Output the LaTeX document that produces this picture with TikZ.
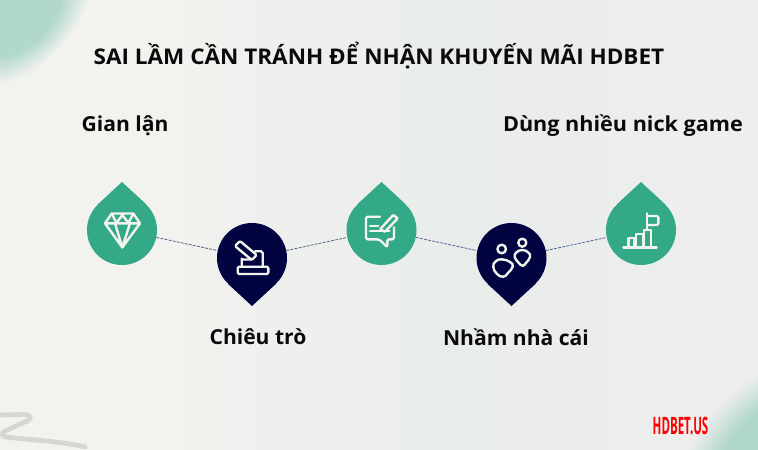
\documentclass[tikz,border=0pt]{standalone}
\usepackage{fontspec}
\setmainfont{Open Sans}
\definecolor{pingreen}{HTML}{34A987}
\definecolor{pinnavy}{HTML}{010440}
\definecolor{mint}{HTML}{B2D8CA}
\definecolor{paper}{HTML}{F2F2EF}
\definecolor{paperright}{HTML}{EEEEEE}
\definecolor{haze}{HTML}{E9EDEA}
\definecolor{linkblue}{HTML}{4F6590}
\definecolor{scribble}{HTML}{D6D6D4}
\pgfdeclarehorizontalshading{paperband}{100bp}{color(0bp)=(paper); color(36bp)=(paper); color(55bp)=(haze); color(75bp)=(paperright); color(100bp)=(paperright)}
\pgfdeclareradialshading{mintleft}{\pgfpoint{0bp}{0bp}}{color(0bp)=(mint); color(14bp)=(mint); color(25bp)=(paper); color(50bp)=(paper)}
\pgfdeclareradialshading{mintright}{\pgfpoint{0bp}{0bp}}{color(0bp)=(mint); color(14bp)=(mint); color(25bp)=(paperright); color(50bp)=(paperright)}
\tikzset{
  pingreennode/.style={circle, fill=pingreen, inner sep=0pt, minimum size=52.5pt},
  pinnavynode/.style={circle, fill=pinnavy, inner sep=0pt, minimum size=52.5pt},
  link/.style={draw=linkblue, line width=0.6pt, dash pattern=on 2.2pt off 0.9pt},
  icon/.style={draw=paper, line width=1.8pt, line join=round, line cap=round, fill=none},
  itemtext/.style={font=\bfseries\fontsize{15.5pt}{18pt}\selectfont, text=black!96, inner sep=0pt, anchor=base, xscale=1.02},
}
\begin{document}
\begin{tikzpicture}[x=0.75pt, y=-0.75pt]
    \useasboundingbox (0,0) rectangle (758,450);
    \begin{scope}
      \clip (0,0) rectangle (758,450);
      \shade[shading=paperband] (0,0) rectangle (758,450);
      \begin{scope}[transform canvas={rotate around={45:(20,15)}}]
        \shade[shading=mintleft] (20,15) ellipse (88 and 52);
      \end{scope}
      \begin{scope}[transform canvas={rotate around={45:(772,452)}}]
        \shade[shading=mintright] (772,452) ellipse (115 and 72);
      \end{scope}
      \draw[scribble, line width=3.6pt, line cap=round, line join=round] (-3,415) -- (24,414.5)
      .. controls (32,415) and (32,419) .. (27,421) -- (5,431)
      .. controls (1,433) and (1,436) .. (6,437)
      .. controls (30,440) and (60,441) .. (85,447);
    \end{scope}

    \node[pingreennode] (gem) at (122,230) {};
    \node[pinnavynode] (gavel) at (252,258) {};
    \node[pingreennode] (note) at (381.5,230) {};
    \node[pinnavynode] (people) at (511.5,258) {};
    \node[pingreennode] (chart) at (641,230) {};

    \draw[link] (gem) -- (gavel);
    \draw[link] (gavel) -- (note);
    \draw[link] (note) -- (people);
    \draw[link] (people) -- (chart);

    \fill[pingreen] (gem.46.8) -- ([yshift=36pt]gem.center) -- (gem.133.2) -- cycle;
    \fill[pingreen] (note.46.8) -- ([yshift=36pt]note.center) -- (note.133.2) -- cycle;
    \fill[pingreen] (chart.46.8) -- ([yshift=36pt]chart.center) -- (chart.133.2) -- cycle;
    \fill[pinnavy] (gavel.-46.8) -- ([yshift=-36pt]gavel.center) -- (gavel.-133.2) -- cycle;
    \fill[pinnavy] (people.-46.8) -- ([yshift=-36pt]people.center) -- (people.-133.2) -- cycle;

    \draw[icon] (111.7,213.5) -- (133.3,213.5) -- (140,223.3) -- (122.3,247.5) -- (105,223.3) -- cycle
    (105,223.3) -- (140,223.3)
    (112,214) -- (116.5,223) -- (122.3,215) -- (128.5,223) -- (133,214)
    (115,223.3) -- (122.3,247.5) -- (130,223.3);

    \draw[icon, rounded corners=1pt] (235,246) -- (240,241) -- (256.7,255) -- (251.7,260) -- cycle;
    \draw[icon] (241.7,258.5) -- (241.7,266.7) (241.7,259.5) -- (252,259.5)
    (262.7,266.7) -- (262.7,253) -- (261,251.2) -- (255,251.2);
    \draw[icon, rounded corners=1pt] (237.7,266.7) rectangle (268.3,274);

    \draw[icon, rounded corners=1.5pt] (380,216.7) -- (366,216.7) -- (366,239.3) -- (379.3,239.3)
    -- (387.3,247.3) -- (387.3,239.3) -- (394,239.3) -- (394,227.3);
    \draw[icon] (370,226) -- (378.3,226) (370,231) -- (389.3,231);
    \draw[icon, rounded corners=0.5pt] (380,229.3) -- (393.3,215) -- (397.7,218.3) -- (385,231.7) -- cycle;

    \draw[icon] (501.7,249) circle (4.3) (522.3,242.7) circle (4);
    \draw[icon] plot[smooth cycle, tension=0.8] coordinates {(501.7,259.3) (510,262) (512.7,266.5) (508,273) (503.3,276.7) (497,274) (493.3,267) (495.5,261.5)};
    \draw[icon] plot[smooth cycle, tension=0.8] coordinates {(522.3,250) (528.3,252.5) (530,257) (526,263) (522.3,265.7) (518,262) (514.7,257) (516.3,252.5)};

    \draw[icon] (623.3,247.3) -- (656.7,247.3)
    (628.3,247.3) -- (628.3,237.7) -- (634.3,237.7) -- (634.3,247.3)
    (636,247.3) -- (636,234) -- (642.7,234) -- (642.7,247.3)
    (644,247.3) -- (644,230) -- (651,230) -- (651,247.3)
    (647,230) -- (647,213.3);
    \draw[icon, rounded corners=1pt] (647,216) -- (658.3,216) -- (658.3,225) -- (647,225);

    \node[itemtext, xscale=1.022, font=\bfseries\fontsize{16.2pt}{18pt}\selectfont] (title) at (379,64) {SAI LẦM CẦN TRÁNH ĐỂ NHẬN KHUYẾN MÃI HDBET};
    \node[itemtext] (gemlabel) at (125,131) {Gian lận};
    \node[itemtext, xscale=1.025] (chartlabel) at (623,131) {Dùng nhiều nick game};
    \node[itemtext] (gavellabel) at (258,344) {Chiêu trò};
    \node[itemtext] (peoplelabel) at (516,345) {Nhầm nhà cái};
    \node[anchor=base, inner sep=0pt, text=red, xscale=0.48, font=\bfseries\fontsize{18pt}{20pt}\selectfont] (brand) at (680.5,434) {HDBET.US};
\end{tikzpicture}
\end{document}
